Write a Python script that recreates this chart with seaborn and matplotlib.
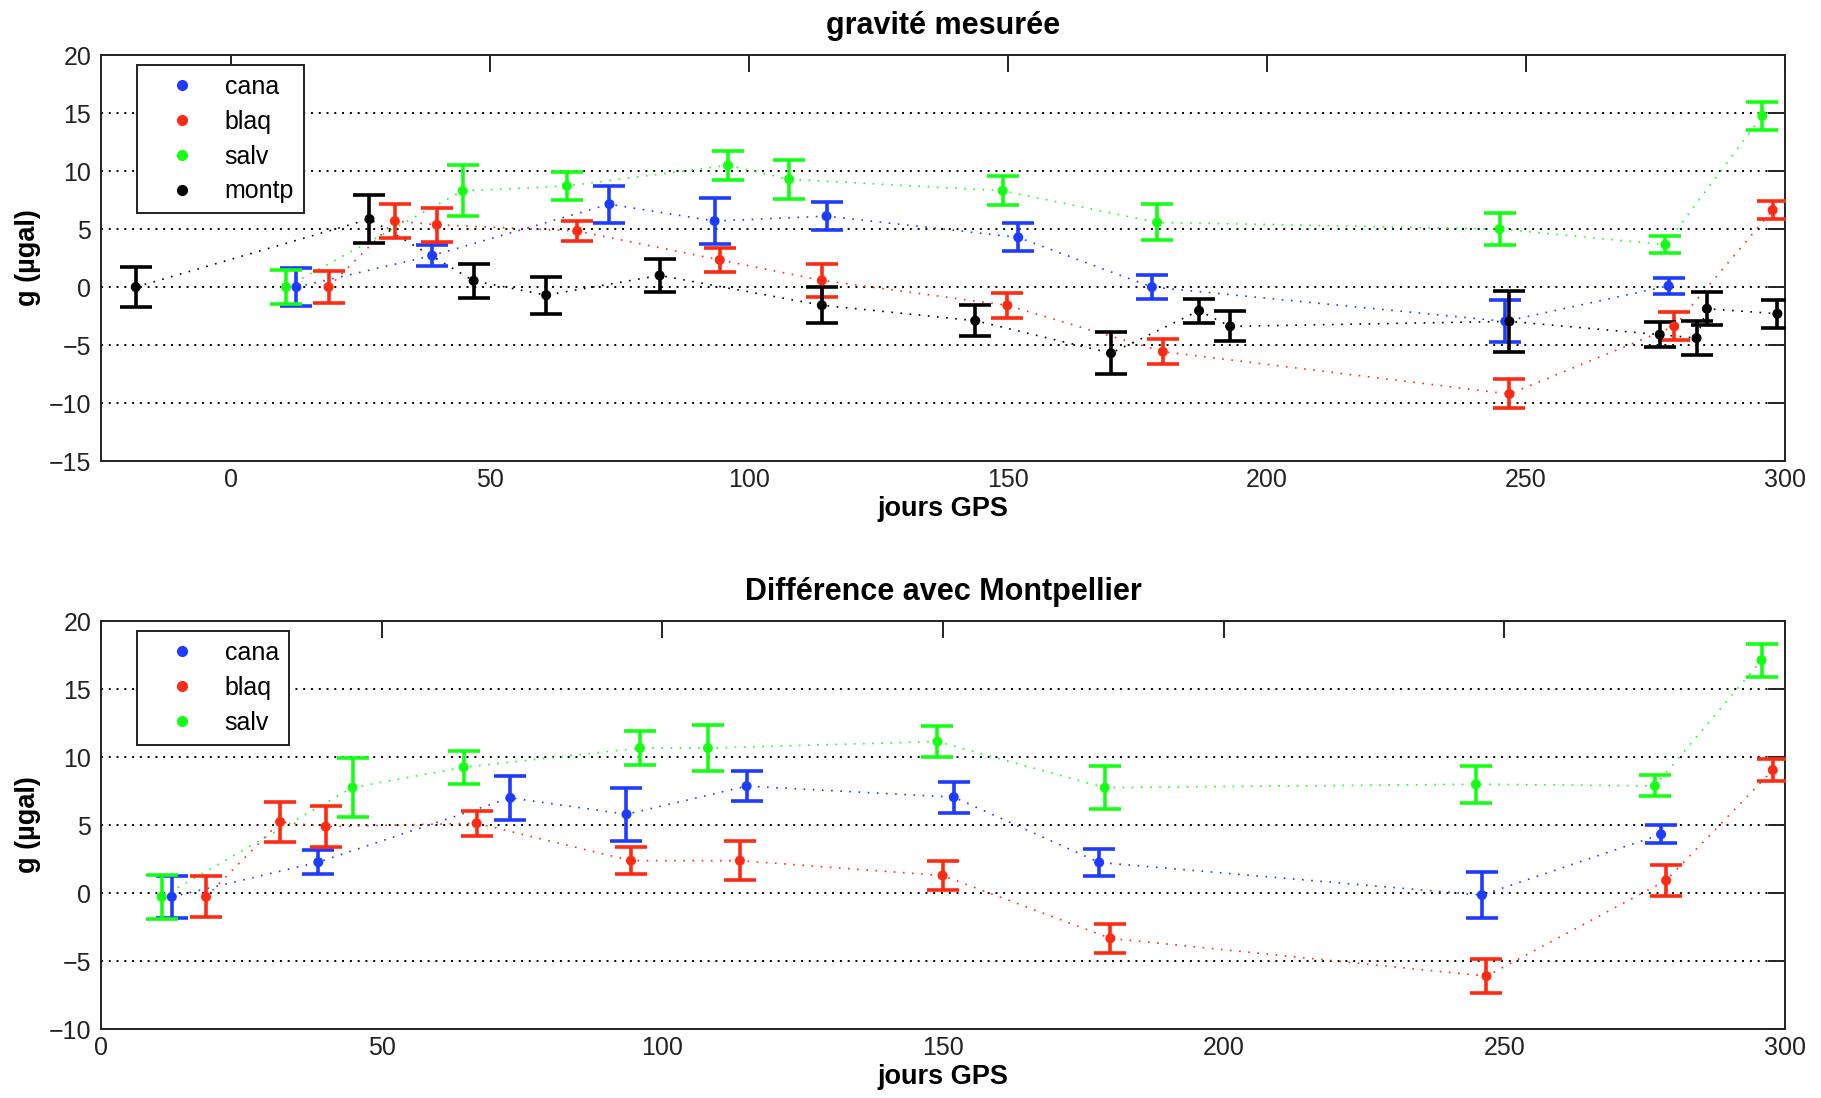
## Gravity plots - measured g and difference with Montpellier
import seaborn as sns
import matplotlib
matplotlib.use("Agg")
import matplotlib.pyplot as plt
from matplotlib.lines import Line2D
import pandas as pd

# --- gravité mesurée (top panel) ---
cana_jours = [12.7, 38.9, 73.1, 93.4, 115.0, 152.0, 177.8, 246.0, 277.5]
cana_g = [0.0, 2.71, 7.14, 5.69, 6.11, 4.28, 0.0, -2.96, 0.1]
cana_err = [1.6, 0.9, 1.6, 1.95, 1.2, 1.2, 1.05, 1.8, 0.7]

blaq_jours = [18.9, 31.7, 39.8, 66.9, 94.4, 114.1, 149.9, 179.9, 246.8, 278.6, 297.6]
blaq_g = [0.0, 5.69, 5.37, 4.83, 2.34, 0.57, -1.58, -5.57, -9.22, -3.39, 6.64]
blaq_err = [1.4, 1.5, 1.45, 0.9, 1.05, 1.4, 1.05, 1.1, 1.25, 1.2, 0.8]

salv_jours = [10.7, 44.8, 64.9, 96.0, 107.8, 149.0, 178.8, 244.9, 276.9, 295.6]
salv_g = [0.0, 8.29, 8.71, 10.49, 9.29, 8.3, 5.57, 5.0, 3.65, 14.77]
salv_err = [1.5, 2.2, 1.2, 1.25, 1.7, 1.25, 1.55, 1.4, 0.75, 1.2]

montp_jours = [-18.3, 26.8, 46.9, 60.9, 82.8, 114.1, 143.7, 169.9, 186.9, 192.9,
               246.8, 275.8, 282.9, 284.9, 298.5]
montp_g = [0.0, 5.86, 0.54, -0.7, 1.0, -1.57, -2.9, -5.7, -2.04, -3.39,
           -2.96, -4.1, -4.4, -1.87, -2.3]
montp_err = [1.7, 2.1, 1.45, 1.6, 1.4, 1.55, 1.35, 1.8, 1.05, 1.3,
             2.6, 1.05, 1.45, 1.4, 1.2]

# --- différence avec Montpellier (bottom panel) ---
cana_jours_d = [12.6, 38.7, 72.9, 93.6, 115.0, 151.9, 177.8, 246.0, 277.9]
cana_d = [-0.28, 2.27, 7.0, 5.79, 7.86, 7.05, 2.25, -0.15, 4.32]
cana_err_d = [1.55, 0.87, 1.6, 1.95, 1.1, 1.15, 1.0, 1.7, 0.67]

blaq_jours_d = [18.7, 31.9, 40.0, 66.9, 94.4, 113.8, 149.9, 179.8, 246.8, 278.8, 297.8]
blaq_d = [-0.28, 5.23, 4.88, 5.13, 2.38, 2.38, 1.29, -3.33, -6.11, 0.93, 9.04]
blaq_err_d = [1.5, 1.5, 1.5, 0.9, 1.0, 1.45, 1.1, 1.05, 1.25, 1.15, 0.8]

salv_jours_d = [10.8, 44.8, 64.6, 96.0, 108.1, 149.0, 178.8, 244.9, 276.8, 295.8]
salv_d = [-0.28, 7.76, 9.25, 10.66, 10.66, 11.14, 7.75, 8.0, 7.88, 17.12]
salv_err_d = [1.6, 2.2, 1.2, 1.25, 1.7, 1.15, 1.6, 1.35, 0.77, 1.2]

stations = ['cana', 'blaq', 'salv', 'montp']
colors = {'cana': '#1e3cff', 'blaq': '#ff2a12', 'salv': '#14ff14', 'montp': '#000000'}


def make_df(series):
    frames = []
    for name, j, g, e in series:
        frames.append(pd.DataFrame({'jour': j, 'g': g, 'err': e, 'station': name}))
    return pd.concat(frames, ignore_index=True)


df_top = make_df([('cana', cana_jours, cana_g, cana_err),
                  ('blaq', blaq_jours, blaq_g, blaq_err),
                  ('salv', salv_jours, salv_g, salv_err),
                  ('montp', montp_jours, montp_g, montp_err)])
df_bot = make_df([('cana', cana_jours_d, cana_d, cana_err_d),
                  ('blaq', blaq_jours_d, blaq_d, blaq_err_d),
                  ('salv', salv_jours_d, salv_d, salv_err_d)])

sns.set_style("white")
plt.rcParams['font.family'] = ['Liberation Sans', 'DejaVu Sans']
plt.rcParams['text.color'] = 'black'
plt.rcParams['axes.labelcolor'] = 'black'
FS = 18


def draw_panel(ax, df, title, xlim, ylim):
    names = [s for s in stations if s in df['station'].unique()]
    pal = {s: colors[s] for s in names}
    # dotted connecting lines
    sns.lineplot(data=df, x='jour', y='g', hue='station', hue_order=names, palette=pal,
                 estimator=None, sort=True, lw=1.2, legend=False, ax=ax,
                 linestyle=(0, (1, 4.5)))
    # error bars
    for s in names:
        sub = df[df['station'] == s]
        ax.errorbar(sub['jour'], sub['g'], yerr=sub['err'], fmt='none', ecolor=colors[s],
                    elinewidth=2.6, capsize=11.5, capthick=2.6, zorder=3)
    sns.scatterplot(data=df, x='jour', y='g', hue='station', hue_order=names, palette=pal,
                    s=52, linewidth=0, legend=False, ax=ax, zorder=4)

    ax.set_xlim(*xlim)
    ax.set_ylim(*ylim)
    ax.set_xticks(range(0, 301, 50))
    ax.set_yticks(range(ylim[0], ylim[1] + 1, 5))
    ax.yaxis.grid(True, color='black', lw=1.4, linestyle=(0, (1, 3)))
    ax.xaxis.grid(False)
    for sp in ax.spines.values():
        sp.set_visible(True)
        sp.set_color('#222222')
        sp.set_linewidth(1.4)
    ax.tick_params(direction='in', length=12, width=1.4, top=True, right=True,
                   labelsize=FS, colors='#222222', labelcolor='#222222')
    ax.tick_params(axis='x', pad=5)
    ax.tick_params(axis='y', pad=7)
    ax.set_title(title, fontsize=22, fontweight='bold', pad=15, color='black')
    ax.set_xlabel('jours GPS', fontsize=19.5, fontweight='bold', labelpad=3)
    ax.set_ylabel('g (µgal)', fontsize=19.5, fontweight='bold', labelpad=6)

    handles = [Line2D([], [], marker='o', ls='none', color=colors[s], markersize=7)
               for s in names]
    leg = ax.legend(handles, names, loc='upper left', bbox_to_anchor=(0.0214, 0.975),
                    borderaxespad=0, fontsize=FS, frameon=True, fancybox=False,
                    framealpha=1, borderpad=0.4, handlelength=2.76,
                    handletextpad=0.34, labelspacing=0.43)
    leg.get_frame().set_edgecolor('#222222')
    leg.get_frame().set_linewidth(1.4)
    leg.set_zorder(10)


fig = plt.figure(figsize=(18.21, 10.98), dpi=100)
ax1 = fig.add_axes([0.0555, 0.5801, 0.9248, 0.3698])
ax2 = fig.add_axes([0.0555, 0.0628, 0.9248, 0.3716])

draw_panel(ax1, df_top, 'gravité mesurée', (-25, 300), (-15, 20))
draw_panel(ax2, df_bot, 'Différence avec Montpellier', (0, 300), (-10, 20))

plt.savefig('out.png', dpi=100)
